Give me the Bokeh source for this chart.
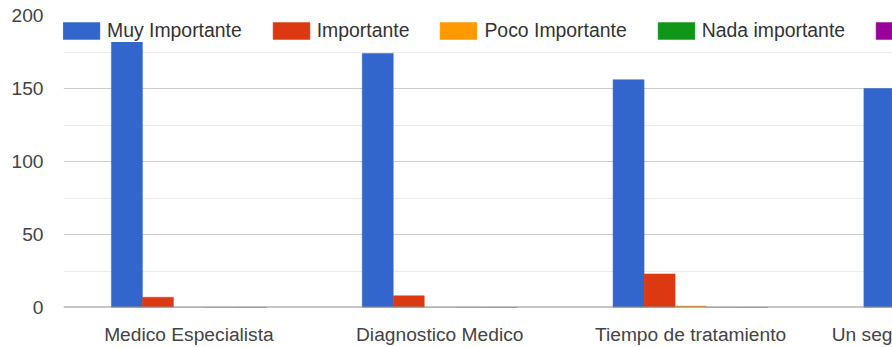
from bokeh.plotting import figure
from bokeh.models import (ColumnDataSource, Range1d, FixedTicker, Legend,
                          LegendItem, Span)
from bokeh.transform import dodge
from bokeh.embed import file_html
from bokeh.resources import INLINE

# Survey answers per aspect (counts of respondents)
categories = ["Medico Especialista", "Diagnostico Medico",
              "Tiempo de tratamiento", "Un segundo diagnostico"]
series_names = ["Muy Importante", "Importante", "Poco Importante",
                "Nada importante", "No sabe"]
muy_importante = [182, 174, 156, 150]
importante = [7, 8, 23]
poco_importante = [0, 0, 1]
nada_importante = [0, 0, 0]
no_sabe = [0, 0, 0]
y_ticks = [0, 50, 100, 150, 200]
y_minor = [25, 75, 125, 175]

colors = ["#3366cc", "#dc3912", "#ff9900", "#109618", "#990099"]
FONT = "Liberation Sans"
FS = "19.2px"
LFS = "19.4px"
GROUP = 0.618
BAR = GROUP / 5
X_START, X_END = -0.5, 2.805

p = figure(width=892, height=347,
           x_range=Range1d(X_START, X_END), y_range=Range1d(0, 200),
           output_backend="svg", toolbar_location=None,
           min_border_left=63, min_border_right=0,
           min_border_top=15, min_border_bottom=36)
p.outline_line_color = None
p.background_fill_color = "white"

items = []
all_series = [muy_importante, importante, poco_importante,
              nada_importante, no_sabe]
for i, (name, vals, col) in enumerate(zip(series_names, all_series, colors)):
    src = ColumnDataSource(dict(x=list(range(len(vals))), top=vals))
    r = p.vbar(x=dodge("x", (i - 2) * BAR, range=p.x_range), top="top",
               width=BAR, source=src, fill_color=col,
               line_color=col, line_width=1, line_alpha=0.5)
    items.append(LegendItem(label=name, renderers=[r]))

# category axis; the last group is cut by the right edge, so only the
# start of its label shows, pinned to that edge
edge_tick = X_END - 0.005
ticks = [0, 1, 2, edge_tick]
labels = {0: categories[0], 1: categories[1], 2: categories[2],
          edge_tick: categories[3][:6]}
p.xaxis.ticker = FixedTicker(ticks=ticks)
p.xaxis.major_label_overrides = labels
p.xaxis.axis_line_color = None
p.xaxis.major_tick_line_color = None
p.xaxis.minor_tick_line_color = None
p.xaxis.major_label_standoff = 10
p.xaxis.major_label_text_font = FONT
p.xaxis.major_label_text_font_size = FS
p.xaxis.major_label_text_color = "#444444"

p.yaxis.ticker = FixedTicker(ticks=y_ticks, minor_ticks=y_minor)
p.yaxis.axis_line_color = None
p.yaxis.major_tick_line_color = None
p.yaxis.minor_tick_line_color = None
p.yaxis.major_label_standoff = 14
p.yaxis.major_label_text_font = FONT
p.yaxis.major_label_text_font_size = FS
p.yaxis.major_label_text_color = "#444444"

p.xgrid.grid_line_color = None
p.ygrid.grid_line_color = "#cccccc"
p.ygrid.minor_grid_line_color = "#ebebeb"

p.add_layout(Span(location=0, dimension="width", line_color="#8c8c8c",
                  line_width=2))

legend = Legend(items=items, location=(-5, 265), orientation="horizontal",
                padding=0, margin=0, spacing=26, label_standoff=3,
                glyph_width=46, glyph_height=21,
                label_text_font=FONT, label_text_font_size=LFS,
                label_text_color="#333333", border_line_color=None,
                background_fill_color="white", background_fill_alpha=1.0)
p.add_layout(legend)

open("out.html", "w").write(file_html(p, INLINE))
